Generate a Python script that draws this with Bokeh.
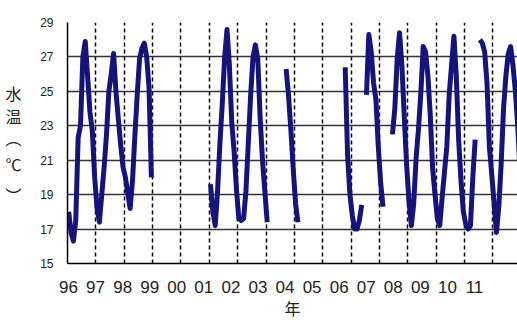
import numpy as np
from bokeh.plotting import figure
from bokeh.models import FixedTicker, Range1d, LinearAxis
from bokeh.embed import file_html
from bokeh.resources import INLINE

# ---- data (monthly water temperature, deg C; None = no observation) ----
years = list(range(1996, 2012))
year_labels = ["96", "97", "98", "99", "00", "01", "02", "03",
               "04", "05", "06", "07", "08", "09", "10", "11"]
temp_1996 = [18.0, 16.8, 16.3, 17.5, 22.3, 23.0, 27.0, 27.9, 25.9, 23.8, 22.7, 20.0]
temp_1997 = [18.2, 17.4, 19.0, 20.6, 22.5, 25.0, 26.0, 27.2, 25.0, 23.4, 21.9, 20.6]
temp_1998 = [20.0, 19.1, 18.2, 19.8, 22.4, 24.8, 26.9, 27.5, 27.8, 27.0, 25.2, 20.0]
temp_1999 = [None] * 12
temp_2000 = [None] * 12
temp_2001 = [19.6, 18.0, 17.2, 19.2, 22.0, 24.3, 27.0, 28.6, 26.5, 23.2, 21.5, 19.3]
temp_2002 = [17.6, 17.5, 17.6, 19.2, 22.0, 24.8, 27.0, 27.7, 26.9, 23.5, 21.0, 19.2]
temp_2003 = [17.4, None, None, None, None, None, None, None, 26.3, 24.8, 22.8, 20.5]
temp_2004 = [18.5, 17.4, None, None, None, None, None, None, None, None, None, None]
temp_2005 = [None, None, None, None, None, None, None, None, None, 26.4, 21.3, 19.0]
temp_2006 = [17.8, 17.0, 17.0, 17.5, 18.4, None, 24.8, 28.3, 27.3, 25.5, 24.5, 21.8]
temp_2007 = [19.7, 18.3, None, None, None, 22.5, 24.0, 26.9, 28.4, 26.5, 23.5, 20.7]
temp_2008 = [18.6, 17.2, 18.5, 21.1, 22.8, 24.9, 27.6, 27.3, 25.9, 23.6, 20.5, 19.0]
temp_2009 = [17.6, 17.2, 18.8, 20.3, 21.8, 24.8, 26.5, 28.2, 25.9, 22.2, 19.8, 18.0]
temp_2010 = [17.3, 17.0, 17.2, 20.0, 22.2, None, 28.0, 27.8, 27.3, 25.5, 21.8, 20.2]
temp_2011 = [18.5, 16.8, 18.3, 20.8, 24.0, 25.9, 27.2, 27.6, 26.5, 25.0, 23.0, 20.3]
y_ticks = [15, 17, 19, 21, 23, 25, 27, 29]
y_title_chars = ["水", "温", "⌒", "℃", "︶"]
x_title = "年"

series = [temp_1996, temp_1997, temp_1998, temp_1999, temp_2000, temp_2001,
          temp_2002, temp_2003, temp_2004, temp_2005, temp_2006, temp_2007,
          temp_2008, temp_2009, temp_2010, temp_2011]

t, v = [], []
for yr, vals in zip(years, series):
    for m, val in enumerate(vals):
        t.append(yr + (m + 0.5) / 12.0)
        v.append(np.nan if val is None else val)
t = np.array(t)
v = np.array(v, dtype=float)

p = figure(width=517, height=324, output_backend="svg", toolbar_location=None,
           x_range=Range1d(1996.0, 2011.867), y_range=Range1d(15, 29),
           x_axis_location=None,
           min_border_left=67, min_border_right=0, min_border_top=22,
           min_border_bottom=61)
p.outline_line_color = None
p.background_fill_color = "white"
p.border_fill_color = "white"

# label axis (the original's year labels are spaced slightly tighter than the years)
p.extra_x_ranges = {"lab": Range1d(-0.037, 16.59)}
xax = LinearAxis(x_range_name="lab")
xax.ticker = FixedTicker(ticks=list(range(len(year_labels))))
xax.major_label_overrides = {i: s for i, s in enumerate(year_labels)}
xax.major_tick_out = 0
xax.major_tick_in = 0
xax.minor_tick_out = 0
xax.minor_tick_in = 0
xax.major_label_standoff = 17
xax.major_label_text_font = "Liberation Sans"
xax.major_label_text_font_size = "17px"
xax.major_label_text_color = "#222222"
xax.axis_line_color = "black"
xax.axis_line_width = 1.5
xax.axis_label = x_title
xax.axis_label_standoff = 0
xax.axis_label_text_font = "Noto Sans CJK JP"
xax.axis_label_text_font_size = "16px"
xax.axis_label_text_font_style = "normal"
xax.axis_label_text_color = "#222222"
p.add_layout(xax, "below")

yax = p.yaxis[0]
yax.ticker = FixedTicker(ticks=y_ticks)
yax.major_tick_out = 0
yax.major_tick_in = 0
yax.minor_tick_out = 0
yax.minor_tick_in = 0
yax.major_label_standoff = 14
yax.major_label_text_font = "Liberation Sans"
yax.major_label_text_font_size = "12px"
yax.major_label_text_color = "#222222"
yax.axis_line_color = "black"
yax.axis_line_width = 1.5

# vertical (stacked) y title, drawn as labels of an outer axis in pixel-like units
title_pos = [92, 115, 148, 163, 194]
p.extra_y_ranges = {"ttl": Range1d(263, 22)}
tax = LinearAxis(y_range_name="ttl")
tax.ticker = FixedTicker(ticks=title_pos)
tax.major_label_overrides = {k: c for k, c in zip(title_pos, y_title_chars)}
tax.major_tick_out = 0
tax.major_tick_in = 0
tax.minor_tick_out = 0
tax.minor_tick_in = 0
tax.axis_line_color = None
tax.major_label_standoff = 16
tax.major_label_text_font = "Noto Sans CJK JP"
tax.major_label_text_font_size = "16px"
tax.major_label_text_color = "#222222"
p.add_layout(tax, "left")

p.ygrid.ticker = FixedTicker(ticks=y_ticks)
p.ygrid.grid_line_color = "#333333"
p.ygrid.grid_line_width = 1.5

p.xgrid.ticker = FixedTicker(ticks=years[1:])
p.xgrid.grid_line_color = "black"
p.xgrid.grid_line_width = 1.5
p.xgrid.grid_line_dash = "4 3"

p.line(t, v, line_color="#14147a", line_width=5, line_join="round")

open("out.html", "w").write(file_html(p, INLINE))
